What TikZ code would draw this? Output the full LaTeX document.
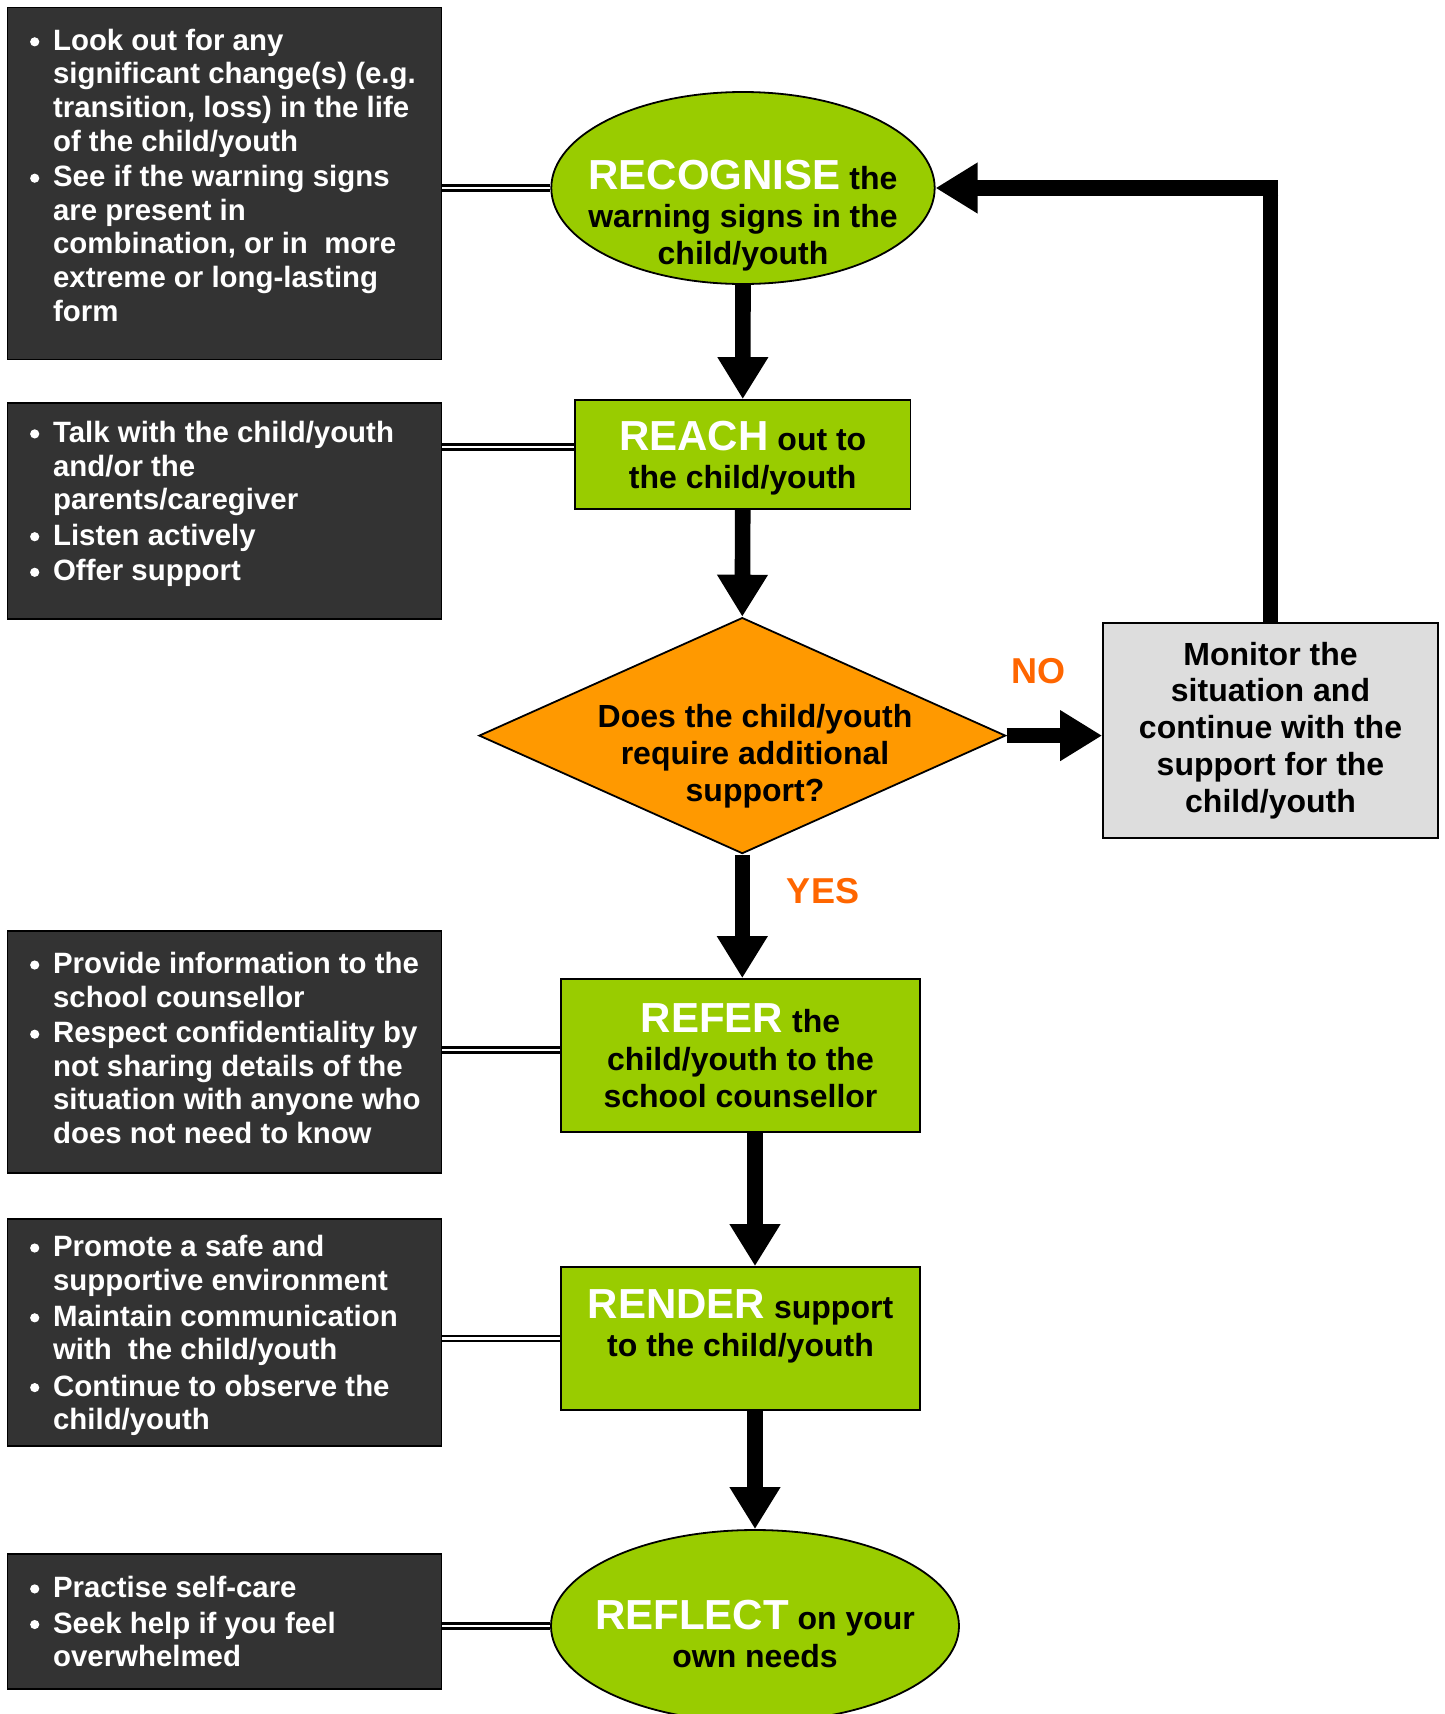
\documentclass[tikz,border=0pt]{standalone}
\usepackage{fontspec}
\setmainfont{Liberation Sans}
\usetikzlibrary{shapes.geometric,arrows.meta}
\definecolor{darkbox}{HTML}{333333}
\definecolor{lgreen}{HTML}{99CC00}
\definecolor{dorange}{HTML}{FF9900}
\definecolor{lgray}{HTML}{DDDDDD}
\definecolor{nored}{HTML}{FF6600}
\newcommand\bl{\makebox[12pt][l]{\hspace{0.5pt}\raisebox{1.95pt}{\tikz\fill[white] (0,0) circle (2.3pt);}}}
\newcommand\ind{\makebox[12pt]{}}
\newcommand\kw[1]{{\fontsize{21}{18.4}\selectfont\color{white}#1}}
\begin{document}
\begin{tikzpicture}[x=0.5pt,y=-0.5pt,
  lbox/.style={draw=black, line width=0.6pt, fill=darkbox, inner sep=0pt, minimum width=217.2pt},
  ltext/.style={text=white, font=\bfseries\fontsize{14.7}{16.8}\selectfont, align=left, inner sep=0pt, anchor=west},
  gbox/.style={draw=black, line width=0.9pt, fill=lgreen, inner sep=0pt, font=\bfseries\fontsize{16}{18.4}\selectfont, align=center},
  ell/.style={ellipse, draw=black, line width=0.9pt, fill=lgreen, inner sep=0pt},
  ctext/.style={font=\bfseries\fontsize{16}{18.4}\selectfont, align=center, inner sep=0pt},
  arr/.style={line width=7.8pt, -{Triangle[width=24pt,length=21pt]}},
  bar/.style={line width=7.8pt},
  conn/.style={draw=black, line width=1.25pt, double=white, double distance=1.2pt},
  lab/.style={text=nored, font=\bfseries\fontsize{18}{20}\selectfont, inner sep=0pt}]
\fill[white] (0,0) rectangle (1445,1714);
\useasboundingbox (0,0) rectangle (1445,1714);

% left boxes
\node[lbox, minimum height=175.9pt] (b1) at (224.5,183.2) {};
\node[ltext] (t1) at ([xshift=11pt,yshift=4pt]b1.west) {\bl Look out for any\\
\ind significant change(s) (e.g.\\
\ind transition, loss) in the life\\
\ind of the child/youth\\[1pt]
\bl See if the warning signs\\
\ind are present in\\
\ind combination, or in\ \ more\\
\ind extreme or long-lasting\\
\ind form};

\node[lbox, minimum height=108pt] (b2) at (224.5,511) {};
\node[ltext] (t2) at ([xshift=11pt,yshift=3.5pt]b2.west) {\bl Talk with the child/youth\\
\ind and/or the\\
\ind parents/caregiver\\[1pt]
\bl Listen actively\\[1pt]
\bl Offer support};

\node[lbox, minimum height=121pt] (b3) at (224.5,1052) {};
\node[ltext] (t3) at ([xshift=11pt,yshift=2pt]b3.west) {\bl Provide information to the\\
\ind school counsellor\\[1pt]
\bl Respect confidentiality by\\
\ind not sharing details of the\\
\ind situation with anyone who\\
\ind does not need to know};

\node[lbox, minimum height=113.5pt] (b4) at (224.5,1332.5) {};
\node[ltext] (t4) at ([xshift=11pt,yshift=-1.5pt]b4.west) {\bl Promote a safe and\\
\ind supportive environment\\[1.3pt]
\bl Maintain communication\\
\ind with\ \ the child/youth\\[1.3pt]
\bl Continue to observe the\\
\ind child/youth};

\node[lbox, minimum height=67.5pt] (b5) at (224.5,1621.5) {};
\node[ltext] (t5) at ([xshift=11pt]b5.west) {\bl Practise self-care\\[1pt]
\bl Seek help if you feel\\
\ind overwhelmed};

% main flow
\node[ell, minimum width=191.7pt, minimum height=96pt] (rec) at (743,188) {};
\node[ctext] (rect) at (743,215.5) {\kw{RECOGNISE} the\\[0.6pt]warning signs in the\\child/youth};

\node[gbox, minimum width=167.75pt, minimum height=54.5pt] (reach) at (742.75,454.5) {};
\node[ctext] (reacht) at (742.75,458) {\kw{REACH} out to\\[0.6pt]the child/youth};

\node[diamond, draw=black, line width=0.9pt, fill=dorange, inner sep=0pt, minimum width=263.3pt, minimum height=118pt] (dia) at (742.3,735.6) {};
\node[ctext] (diat) at (755,756) {Does the child/youth\\require additional\\support?};

\node[draw=black, line width=0.9pt, fill=lgray, inner sep=0pt, minimum width=167.5pt, minimum height=107.5pt, font=\bfseries\fontsize{16}{18.4}\selectfont, align=center] (mon) at (1270.5,730.5) {Monitor the\\situation and\\continue with the\\support for the\\child/youth};

\node[gbox, minimum width=179.5pt, minimum height=76.5pt] (refer) at (740.5,1055.5) {\kw{REFER} the\\[1pt]child/youth to the\\school counsellor};

\node[gbox, minimum width=179.5pt, minimum height=71.5pt] (render) at (740.5,1338.5) {};
\node[ctext] (rendt) at (740.5,1326.5) {\kw{RENDER} support\\[0.6pt]to the child/youth};

\node[ell, minimum width=204pt, minimum height=96pt] (refl) at (755,1626) {};
\node[ctext] (reflt) at (755,1634) {\kw{REFLECT} on your\\[0.6pt]own needs};

\node[lab] (no) at (1038,671) {NO};
\node[lab] (yes) at (823,891) {YES};

% connectors
\draw[conn] (b1.east |- rec.west) -- (rec.west);
\draw[conn] (b2.east |- 0,447) -- (reach.west |- 0,447);
\draw[conn] (b3.east |- 0,1050) -- (refer.west |- 0,1050);
\draw[conn] (b4.east |- render.west) -- (render.west);
\draw[conn] (b5.east |- refl.west) -- (refl.west);

% arrows
\draw[arr] (rec.south) -- (reach.north);
\draw[arr] (reach.south) -- (dia.north);
\draw[arr] (dia.south) -- (refer.north -| dia.south);
\draw[arr] (refer.south -| refl.north) -- (render.north -| refl.north);
\draw[arr] (render.south -| refl.north) -- (refl.north);
\draw[arr] (dia.east) -- (mon.west |- dia.east);
\coordinate (corner) at (mon.north |- rec.east);
\draw[bar] (mon.north) -- (corner);
\draw[arr] ([xshift=3.9pt]corner) -- (rec.east);
\end{tikzpicture}
\end{document}
